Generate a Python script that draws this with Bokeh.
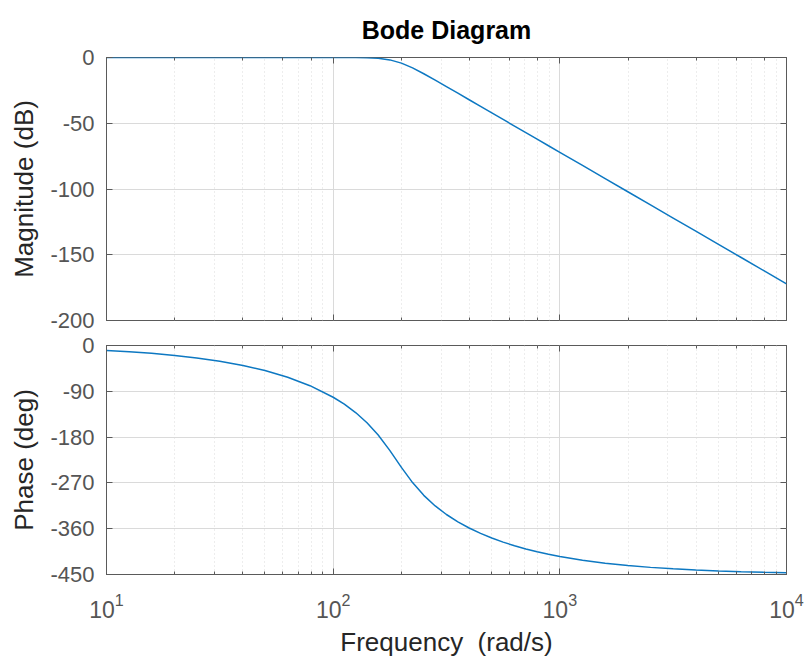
from bokeh.plotting import figure
from bokeh.layouts import column
from bokeh.models import (Range1d, FixedTicker, LogAxis, LinearAxis, LogTicker,
                          CustomJSTickFormatter, ColumnDataSource)
from bokeh.embed import file_html
from bokeh.resources import INLINE

# Frequency points (rad/s)
freq = [10, 12.6, 15.8, 20, 25, 31.6, 40, 50, 63, 79, 100, 112, 126, 141, 158, 178,
        200, 224, 251, 282, 316, 355, 398, 447, 501, 562, 631, 708, 794, 891, 1000,
        1259, 1585, 1995, 2512, 3162, 3981, 5012, 6310, 7943, 10000]
# Magnitude (dB)
mag_db = [0, 0, 0, 0, 0, 0, 0, 0, 0, 0, 0, -0.02, -0.07, -0.21, -0.64, -1.82,
          -4.27, -7.92, -12.35, -17.23, -22.12, -27.14, -32.12, -37.16, -42.11, -47.10,
          -52.13, -57.13, -62.11, -67.11, -72.12,
          -82.1, -92.1, -102.1, -112.1, -122.1, -132.1, -142.1, -152.1, -162.1, -172.1]
# Phase (deg)
phase_deg = [-9.8, -12.3, -15.4, -19.5, -24.5, -30.9, -39.3, -49.2, -62.4, -79.0,
             -101.7, -115.3, -132.2, -151.7, -175.9, -206.6, -239.5, -269.4, -294.5,
             -315.3, -332.1, -346.5, -358.6, -369.2, -378.3, -386.4, -393.5, -399.8,
             -405.3, -410.2, -414.6, -422.0, -427.8, -432.3, -436.0, -438.9, -441.2,
             -443.0, -444.4, -445.6, -446.5]

mag_ticks = [-200, -150, -100, -50, 0]
phase_ticks = [-450, -360, -270, -180, -90, 0]

LINE = "#0d78c2"
AXIS = "#5a5a5a"
TICKLBL = "#555555"
LBL = "#262626"
FONT = "Liberation Sans"
GRID = "#dadada"

src = ColumnDataSource(dict(f=freq, m=mag_db, ph=phase_deg))

blank = CustomJSTickFormatter(code="return ''")
plain = CustomJSTickFormatter(code="return String(tick)")


def style(p, yticks):
    p.outline_line_color = AXIS
    p.outline_line_width = 1
    p.xgrid.grid_line_color = GRID
    p.ygrid.grid_line_color = GRID
    p.xgrid.minor_grid_line_color = GRID
    p.xgrid.minor_grid_line_dash = "1 3"
    p.ygrid.ticker = FixedTicker(ticks=yticks)
    p.yaxis.ticker = FixedTicker(ticks=yticks)
    p.yaxis.formatter = plain
    for ax in p.axis:
        ax.axis_line_color = AXIS
        ax.major_tick_line_color = AXIS
        ax.minor_tick_line_color = AXIS
        ax.major_tick_in = 6
        ax.major_tick_out = 0
        ax.minor_tick_in = 3
        ax.minor_tick_out = 0
        ax.major_label_text_font = FONT
        ax.major_label_text_color = TICKLBL
        ax.major_label_text_font_size = "23px"
        ax.axis_label_text_font = FONT
        ax.axis_label_text_font_style = "normal"
        ax.axis_label_text_color = LBL
        ax.axis_label_text_font_size = "26px"
    p.yaxis.major_label_text_font_size = "22px"
    p.yaxis.major_label_standoff = 12
    p.yaxis.axis_label_standoff = 8


def add_blank_axes(p, yticks, top=True, bottom=False):
    ra = LinearAxis(ticker=FixedTicker(ticks=yticks), formatter=blank,
                    major_label_text_font_size="1px", major_label_standoff=0,
                    axis_line_color=None, major_tick_line_color=AXIS,
                    major_tick_in=6, major_tick_out=0, minor_tick_line_color=None)
    p.add_layout(ra, "right")
    sides = []
    if top:
        sides.append("above")
    if bottom:
        sides.append("below")
    for s in sides:
        ta = LogAxis(ticker=LogTicker(), formatter=blank,
                     major_label_text_font_size="1px", major_label_standoff=0,
                     axis_line_color=None, major_tick_line_color=AXIS,
                     minor_tick_line_color=AXIS, major_tick_in=6, major_tick_out=0,
                     minor_tick_in=3, minor_tick_out=0)
        p.add_layout(ta, s)


xr = Range1d(10, 10000)

p1 = figure(width=804, height=332, x_axis_type="log", x_range=xr,
            y_range=Range1d(-200, 0), output_backend="svg", toolbar_location=None,
            min_border_left=106, min_border_right=18, min_border_top=57,
            min_border_bottom=12, x_axis_location=None,
            title="Bode Diagram")
p1.line("f", "m", source=src, color=LINE, line_width=1.5)
style(p1, mag_ticks)
p1.yaxis.axis_label = "Magnitude (dB)"
add_blank_axes(p1, mag_ticks, top=True, bottom=True)
p1.title.align = "center"
p1.title.text_font = FONT
p1.title.text_font_size = "25px"
p1.title.text_font_style = "bold"
p1.title.text_color = "#000000"
p1.title.text_line_height = 1.0
p1.title.standoff = 27

p2 = figure(width=804, height=327, x_axis_type="log", x_range=xr,
            y_range=Range1d(-450, 0), output_backend="svg", toolbar_location=None,
            min_border_left=106, min_border_right=18, min_border_top=13,
            min_border_bottom=81)
p2.line("f", "ph", source=src, color=LINE, line_width=1.5)
style(p2, phase_ticks)
p2.yaxis.axis_label = "Phase (deg)"
p2.xaxis.axis_label = "Frequency \u00a0(rad/s)"
p2.xaxis.major_label_standoff = 18
p2.xaxis.axis_label_standoff = 6
add_blank_axes(p2, phase_ticks, top=True, bottom=False)

for p in (p1, p2):
    p.background_fill_color = "white"
    p.border_fill_color = "white"

layout = column(p1, p2, spacing=0)
open("out.html", "w").write(file_html(layout, INLINE))
